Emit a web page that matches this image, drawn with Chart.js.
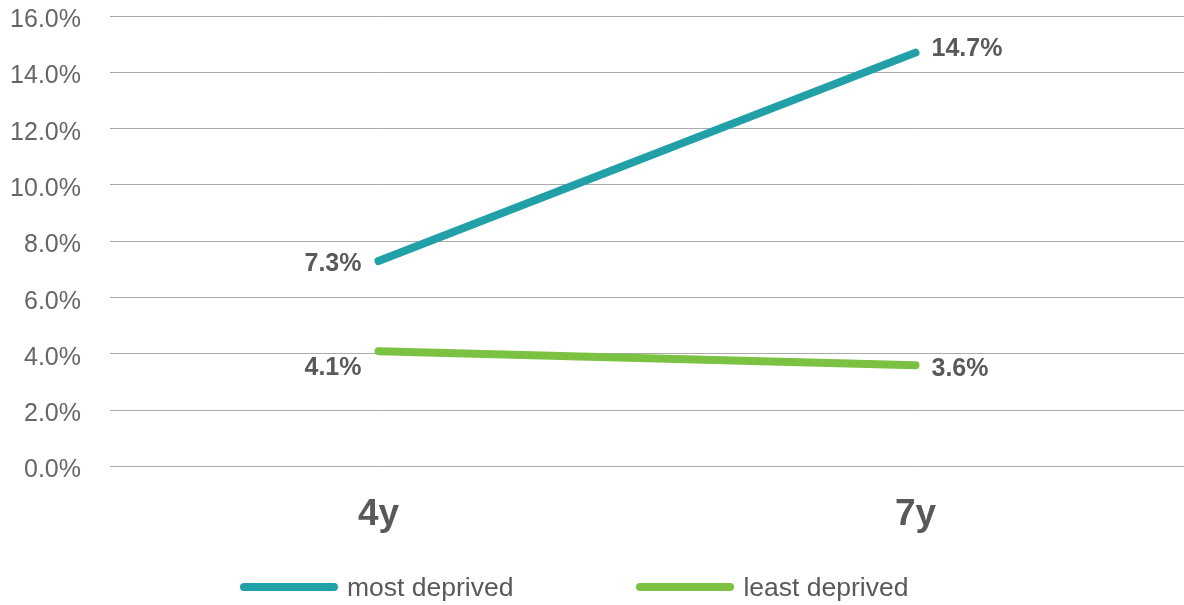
<!DOCTYPE html>
<html>
<head>
<meta charset="utf-8">
<title>Deprivation trend</title>
<script src="https://cdn.jsdelivr.net/npm/chart.js@4.4.1/dist/chart.umd.min.js"></script>
<style>
  html, body { margin: 0; padding: 0; background: #fff; }
  #wrap { position: relative; width: 1184px; height: 605px; overflow: hidden; }
  #chart { display: block; margin-top: -28px; }
  #legend {
    position: absolute; left: 240px; top: 570px; height: 34px;
    display: flex; align-items: center;
    font-family: "Liberation Sans", Arial, sans-serif; font-size: 26.5px; color: #595959;
    white-space: nowrap;
  }
  #legend .item { display: flex; align-items: center; }
  #legend .item + .item { margin-left: 123px; }
  #legend .swatch { width: 98px; height: 8px; border-radius: 4px; margin-right: 9px; }
</style>
</head>
<body>
<div id="wrap">
  <canvas id="chart" width="1184" height="635"></canvas>
  <div id="legend"></div>
</div>
<script>
// Shortcuts
const qs = s => document.querySelector(s);

/* ----------------------------------------------------------
   DATA
---------------------------------------------------------- */
const ages        = ["4y", "7y"];
const seriesNames = ["most deprived", "least deprived"];
const mostDeprived  = [7.3, 14.7];
const leastDeprived = [4.1, 3.6];
const seriesColors  = ["#21A0A8", "#7BC142"];

const yMin = 0, yMax = 16, yStep = 2;

const TEXT_GREY = "#595959";
const FONT = '"Liberation Sans", Arial, sans-serif';

/* ----------------------------------------------------------
   VALUE LABELS next to each point
   side: which side of the point the label goes, dy: vertical nudge
---------------------------------------------------------- */
const labelPlacement = [
  [{ side: "left", dy: 3 },  { side: "right", dy: -4 }],
  [{ side: "left", dy: 17 }, { side: "right", dy: 4 }]
];

const valueLabels = {
  id: "valueLabels",
  afterDatasetsDraw(chart) {
    const ctx = chart.ctx;
    ctx.save();
    ctx.font = "bold 25px " + FONT;
    ctx.fillStyle = TEXT_GREY;
    ctx.textBaseline = "middle";
    chart.data.datasets.forEach((ds, di) => {
      chart.getDatasetMeta(di).data.forEach((pt, i) => {
        const place = labelPlacement[di][i];
        const txt = ds.data[i].toFixed(1) + "%";
        if (place.side === "left") {
          ctx.textAlign = "right";
          ctx.fillText(txt, pt.x - 17, pt.y + place.dy);
        } else {
          ctx.textAlign = "left";
          ctx.fillText(txt, pt.x + 16, pt.y + place.dy);
        }
      });
    });
    ctx.restore();
  }
};

/* ----------------------------------------------------------
   CHART
---------------------------------------------------------- */
const seriesData = [mostDeprived, leastDeprived];

const chart = new Chart(qs("#chart"), {
  type: "line",
  data: {
    labels: ages,
    datasets: seriesNames.map((name, i) => ({
      label: name,
      data: seriesData[i],
      borderColor: seriesColors[i],
      backgroundColor: seriesColors[i],
      borderWidth: 8,
      borderCapStyle: "round",
      pointRadius: 0,
      tension: 0
    }))
  },
  options: {
    responsive: false,
    animation: false,
    layout: { padding: { top: -12, right: 0, bottom: 44, left: 0 } },
    plugins: {
      legend: { display: false },
      tooltip: { enabled: false }
    },
    scales: {
      x: {
        offset: true,
        grid: { display: false, drawTicks: false },
        border: { display: false },
        ticks: {
          padding: 26,
          color: TEXT_GREY,
          font: { family: FONT, size: 37, weight: "bold" }
        }
      },
      y: {
        min: yMin,
        max: yMax,
        grid: { color: "#ababab", lineWidth: 1, drawTicks: false },
        border: { display: false },
        afterFit: scale => { scale.width = 110; },
        ticks: {
          stepSize: yStep,
          padding: 29,
          labelOffset: 4,
          color: "#666666",
          font: { family: FONT, size: 25 },
          callback: v => Number(v).toFixed(1) + "%"
        }
      }
    }
  },
  plugins: [valueLabels]
});

/* ----------------------------------------------------------
   LEGEND (html, below the canvas)
---------------------------------------------------------- */
qs("#legend").innerHTML = seriesNames.map((name, i) =>
  `<div class="item"><span class="swatch" style="background:${seriesColors[i]}"></span>${name}</div>`
).join("");
</script>
</body>
</html>
